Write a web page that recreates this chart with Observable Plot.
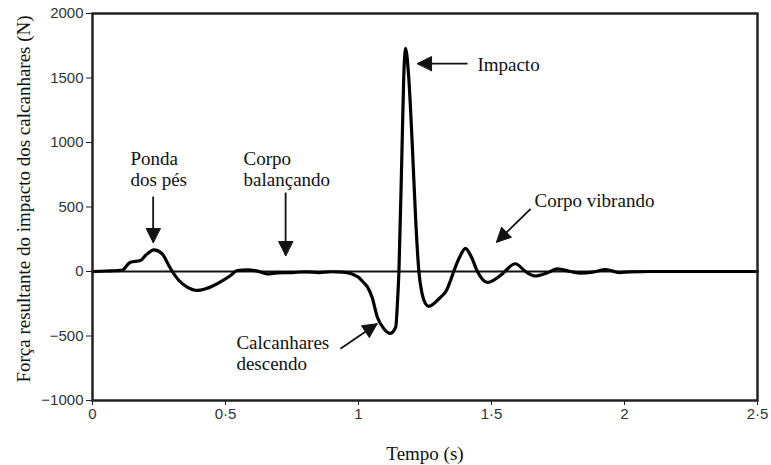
<!DOCTYPE html>
<html>
<head>
<meta charset="utf-8">
<script src="https://cdn.jsdelivr.net/npm/d3@7"></script>
<script src="https://cdn.jsdelivr.net/npm/@observablehq/plot@0.6"></script>
<style>
  html, body { margin: 0; padding: 0; background: #fff; }
  #chart svg { display: block; }
</style>
</head>
<body>
<div id="chart"></div>
<script>
// Force curve: time (s) and force (N)
const timeS = [0, 0.03, 0.068, 0.105, 0.112, 0.137, 0.143, 0.18, 0.199, 0.231, 0.262, 0.287, 0.30, 0.325, 0.356, 0.394, 0.425, 0.494, 0.519, 0.544, 0.582, 0.62, 0.657, 0.695, 0.75, 0.80, 0.85, 0.90, 0.94, 0.97, 1.0, 1.019, 1.034, 1.051, 1.071, 1.094, 1.12, 1.14, 1.147, 1.152, 1.164, 1.170, 1.177, 1.189, 1.202, 1.215, 1.227, 1.239, 1.252, 1.264, 1.308, 1.33, 1.346, 1.358, 1.38, 1.402, 1.425, 1.447, 1.485, 1.534, 1.59, 1.628, 1.665, 1.71, 1.748, 1.797, 1.835, 1.88, 1.93, 1.98, 2.02, 2.1, 2.2, 2.3, 2.4, 2.5];
const forceN = [0, 2, 5, 8, 10, 64, 72, 85, 124, 168, 137, 46, 0, -70, -121, -147, -134, -64, -31, 8, 13, 3, -18, -10, -8, -3, -8, -2, -5, -15, -45, -85, -121, -199, -355, -440, -480, -430, -220, 0, 990, 1500, 1729, 1500, 990, 400, 0, -171, -250, -270, -200, -150, -70, 0, 110, 180, 110, 0, -85, -30, 60, 0, -35, -10, 20, 0, -12, -5, 15, -8, -3, 0, 0, 0, 0, 0];

// Axis ticks
const xTicks = [0, 0.5, 1, 1.5, 2, 2.5];
const xTickLabels = ["0", "0·5", "1", "1·5", "2", "2·5"];
const yTicks = [-1000, -500, 0, 500, 1000, 1500, 2000];
const yTickLabels = ["−1000", "−500", "0", "500", "1000", "1500", "2000"];

// Annotations
const annoText = ["Ponda\ndos pés", "Corpo\nbalançando", "Impacto", "Corpo vibrando", "Calcanhares\ndescendo"];
const annoX = [0.143, 0.568, 1.447, 1.662, 0.541];
const annoY = [798, 798, 1612, 558, -628];

// Arrows: tail (x1,y1) -> tip (x2,y2), head direction in degrees
const arrowX1 = [0.228, 0.726, 1.410, 1.647, 0.932];
const arrowY1 = [581, 612, 1612, 486, -599];
const arrowX2 = [0.228, 0.726, 1.222, 1.519, 1.070];
const arrowY2 = [225, 124, 1612, 227, -405];
const arrowAngle = [180, 180, 270, 225, 56];

const xLabel = "Tempo (s)";
const yLabel = "Força resultante do impacto dos calcanhares (N)";

const curve = timeS.map((t, i) => ({t, f: forceN[i]}));
const annos = annoText.map((s, i) => ({s, x: annoX[i], y: annoY[i]}));
const arrows = arrowX1.map((x1, i) => ({x1, y1: arrowY1[i], x2: arrowX2[i], y2: arrowY2[i], a: arrowAngle[i]}));

const headShape = {
  draw(context, l) {
    context.moveTo(0, -l);
    context.lineTo(7, 0);
    context.lineTo(-7, 0);
    context.closePath();
  }
};

const serif = "'Liberation Serif', 'Times New Roman', serif";

const chart = Plot.plot({
  width: 771,
  height: 465,
  marginLeft: 92,
  marginRight: 14,
  marginTop: 13,
  marginBottom: 65,
  style: {background: "#fff", fontFamily: "'Liberation Sans', Arial, sans-serif", color: "#222"},
  x: {domain: [0, 2.5]},
  y: {domain: [-1000, 2000]},
  marks: [
    Plot.ruleY([0], {stroke: "#111", strokeWidth: 2}),
    Plot.line(curve, {x: "t", y: "f", stroke: "#000", strokeWidth: 3.2, curve: "monotone-x", strokeLinejoin: "round"}),
    Plot.frame({stroke: "#222", strokeWidth: 2.5}),
    Plot.axisX({ticks: xTicks, tickFormat: d => xTickLabels[xTicks.indexOf(d)], tickSize: 5, tickPadding: 3, fontSize: 15, fill: "#333", stroke: "#222", label: null}),
    Plot.axisY({ticks: yTicks, tickFormat: d => yTickLabels[yTicks.indexOf(d)], tickSize: 6, tickPadding: 3, fontSize: 15, fill: "#333", stroke: "#222", label: null}),
    Plot.link(arrows, {x1: "x1", y1: "y1", x2: "x2", y2: "y2", stroke: "#111", strokeWidth: 1.8}),
    Plot.vector(arrows, {x: "x2", y: "y2", rotate: "a", length: 14, anchor: "end", shape: headShape, fill: "#111", stroke: "#111", strokeWidth: 1}),
    Plot.text(annos, {x: "x", y: "y", text: "s", textAnchor: "start", lineAnchor: "middle", lineHeight: 1.15, fontFamily: serif, fontSize: 19, fill: "#111"}),
    Plot.text([xLabel], {frameAnchor: "bottom", lineAnchor: "middle", dy: 53, fontFamily: serif, fontSize: 19, fill: "#111"}),
    Plot.text([yLabel], {frameAnchor: "left", textAnchor: "middle", lineAnchor: "middle", rotate: -90, dx: -69, dy: -8, fontFamily: serif, fontSize: 19, fill: "#111"})
  ]
});
document.getElementById("chart").appendChild(chart);
</script>
</body>
</html>
